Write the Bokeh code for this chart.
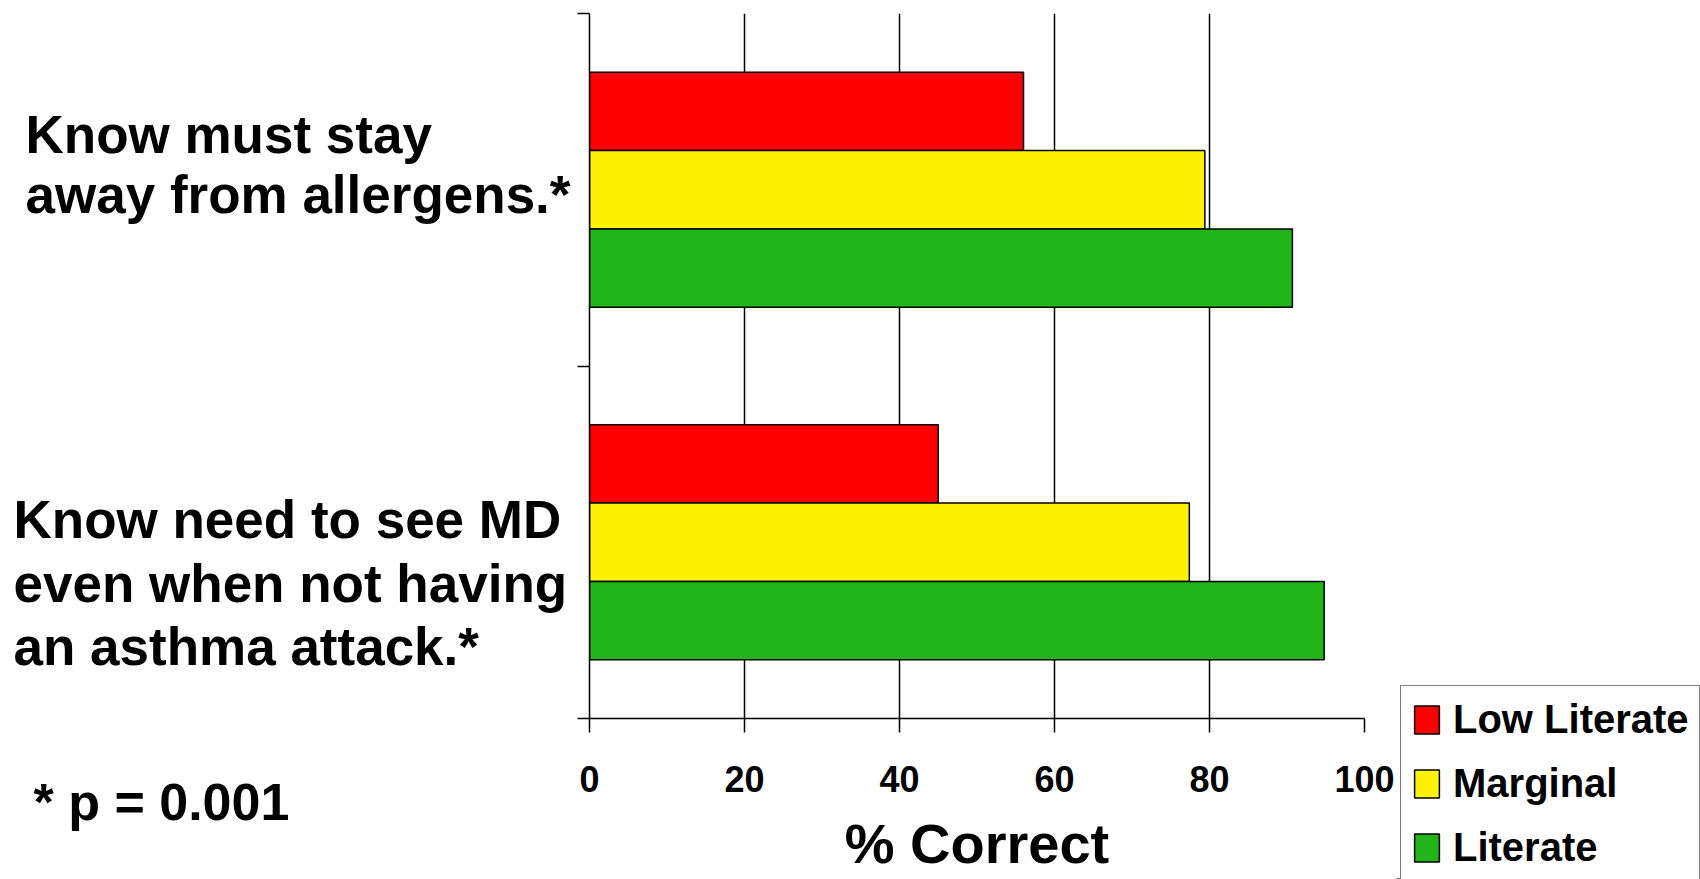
from bokeh.plotting import figure
from bokeh.layouts import row, column
from bokeh.models import Range1d, FixedTicker, Legend, LegendItem, ColumnDataSource
from bokeh.core.properties import value
from bokeh.embed import file_html
from bokeh.resources import INLINE

# ---- data ----
categories = ["Know must stay\naway from allergens.*",
              "Know need to see MD\neven when not having\nan asthma attack.*"]
series_names = ["Low Literate", "Marginal", "Literate"]
low_literate = [56.0, 45.0]
marginal = [79.4, 77.4]
literate = [90.7, 94.8]
x_ticks = [0, 20, 40, 60, 80, 100]
x_title = "% Correct"
footnote = "* p = 0.001"

colors = ["#FF0000", "#FCF206", "#20B418"]
series = [low_literate, marginal, literate]

FONT = "Liberation Sans"
H = 879
LEFT_W, MAIN_W, RIGHT_W = 577, 819, 304
B_L, B_R, B_T, B_B = 12, 32, 13, 88        # main figure borders
MAIN_H = 718 + B_B                          # frame 13 .. 718
TITLE_H = H - MAIN_H
FRAME_TOP, FRAME_BOT = B_T, MAIN_H - B_B

n = len(categories)
px_per_y = (FRAME_BOT - FRAME_TOP) / float(n)
BASE_SHIFT = 0.3   # em, renderer places alphabetic baseline this much lower


def yd(py):
    """page pixel row -> data y of the category scale"""
    return (FRAME_BOT - py) / px_per_y


x_range = Range1d(0, 100)
y_range = Range1d(0, n)

# ---------------- main chart ----------------
p = figure(width=MAIN_W, height=MAIN_H, output_backend="svg", toolbar_location=None,
           x_range=x_range, y_range=y_range,
           min_border_left=B_L, min_border_right=B_R,
           min_border_top=B_T, min_border_bottom=B_B)
p.outline_line_color = None

centers = [n - i - 0.5 for i in range(n)]
bar_h = 0.222
offsets = [bar_h, 0.0, -bar_h]

for name, vals, col, off in zip(series_names, series, colors, offsets):
    src = ColumnDataSource(dict(y=[c + off for c in centers], right=vals, left=[0] * n))
    p.hbar(y="y", left="left", right="right", height=bar_h, source=src,
           fill_color=col, line_color="black", line_width=1.5)

p.ygrid.visible = False
p.xgrid.ticker = FixedTicker(ticks=x_ticks)
p.xgrid.grid_line_color = "black"
p.xgrid.grid_line_width = 1.5

p.xaxis.ticker = FixedTicker(ticks=x_ticks)
p.xaxis.axis_line_color = "black"
p.xaxis.axis_line_width = 1.5
p.xaxis.major_tick_line_width = 1.5
p.xaxis.major_tick_out = 14
p.xaxis.major_tick_in = 0
p.xaxis.minor_tick_line_color = None
p.xaxis.major_label_text_font = FONT
p.xaxis.major_label_text_font_style = "bold"
p.xaxis.major_label_text_font_size = "36px"
p.xaxis.major_label_text_color = "black"
p.xaxis.major_label_standoff = 33

p.yaxis.ticker = FixedTicker(ticks=list(range(n + 1)))
p.yaxis.major_label_overrides = {i: "" for i in range(n + 1)}
p.yaxis.axis_line_color = "black"
p.yaxis.axis_line_width = 1.5
p.yaxis.major_tick_line_width = 1.5
p.yaxis.major_tick_out = 12
p.yaxis.major_tick_in = 0
p.yaxis.minor_tick_line_color = None

# ---------------- x title strip ----------------
t = figure(width=MAIN_W, height=TITLE_H, output_backend="svg", toolbar_location=None,
           x_range=x_range, y_range=Range1d(0, TITLE_H),
           min_border_left=B_L, min_border_right=B_R, min_border_top=0, min_border_bottom=0,
           x_axis_location=None, y_axis_location=None)
t.outline_line_color = None
t.grid.visible = False
title_size = 56
title_base_local = 860 - MAIN_H - BASE_SHIFT * title_size
t.text(x=[50], y=[TITLE_H - title_base_local], text=[x_title], text_font=value(FONT),
       text_font_style="bold", text_font_size="%dpx" % title_size, text_color="black",
       text_align="center", text_baseline="alphabetic")

# ---------------- left labels ----------------
lf = figure(width=LEFT_W, height=H, output_backend="svg", toolbar_location=None,
            x_range=Range1d(0, LEFT_W), y_range=Range1d(yd(H), yd(0)),
            min_border=0, x_axis_location=None, y_axis_location=None)
lf.outline_line_color = None
lf.grid.visible = False

cat_size = 53
label_left = [25, 13]
first_base = [150, 535]   # baseline pixel of first line
line_gap = [60, 63.5]
lx, ly, lt = [], [], []
for i, cat in enumerate(categories):
    for j, line in enumerate(cat.split("\n")):
        lx.append(label_left[i])
        ly.append(yd(first_base[i] + j * line_gap[i] - BASE_SHIFT * cat_size))
        lt.append(line)
lf.text(x="x", y="y", text="t", source=ColumnDataSource(dict(x=lx, y=ly, t=lt)),
        text_font=value(FONT), text_font_style="bold", text_font_size="%dpx" % cat_size,
        text_color="black", text_align="left", text_baseline="alphabetic")
fn_size = 52
lf.text(x=[33], y=[yd(817 - BASE_SHIFT * fn_size)], text=[footnote], text_font=value(FONT),
        text_font_style="bold", text_font_size="%dpx" % fn_size, text_color="black",
        text_align="left", text_baseline="alphabetic")

# ---------------- legend panel ----------------
rf = figure(width=RIGHT_W, height=H, output_backend="svg", toolbar_location=None,
            x_range=Range1d(0, 1), y_range=Range1d(0, 1),
            min_border=0, x_axis_location=None, y_axis_location=None)
rf.outline_line_color = None
rf.grid.visible = False
items = []
for name, col in zip(series_names, colors):
    # legend swatch source: one bar kept outside the visible range of this panel
    r = rf.hbar(y=[-5], left=[0], right=[0.5], height=0.1, fill_color=col,
                line_color="black", line_width=1.5)
    items.append(LegendItem(label=name, renderers=[r]))

pad, lab_h, spc = 10, 46, 18
leg_h = 2 * pad + 3 * lab_h + 2 * spc
leg_top = 687
legend = Legend(items=items, location=(4, H - leg_top - leg_h), orientation="vertical",
                label_text_font=FONT, label_text_font_style="bold",
                label_text_font_size="40px", label_text_color="black",
                glyph_width=31, glyph_height=35, label_standoff=11,
                label_height=lab_h, spacing=spc, padding=pad, margin=0,
                border_line_color="black", border_line_width=1.5,
                background_fill_color="white", background_fill_alpha=1.0)
rf.add_layout(legend)

layout = row(lf, column(p, t, spacing=0), rf, spacing=0)
open("out.html", "w").write(file_html(layout, INLINE))
